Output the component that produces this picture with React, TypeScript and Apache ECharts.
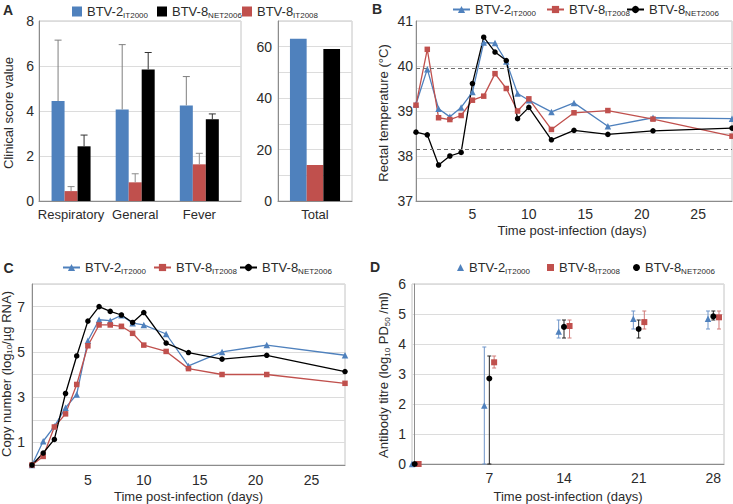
import React, { useEffect, useRef } from 'react';
import * as echarts from 'echarts';

const FONT = '"Liberation Sans", Arial, Helvetica, sans-serif';
const TEXT = '#2b2b2b';
const AXIS = '#8c8c8c';
const GRIDLINE = '#dcdcdc';
const BORDER = '#c4c4c4';

// Strains: 0 = BTV-2 IT2000, 1 = BTV-8 IT2008, 2 = BTV-8 NET2006
const strainMain = ['BTV-2', 'BTV-8', 'BTV-8'];
const strainSub = ['IT2000', 'IT2008', 'NET2006'];
const strainColor = ['#4F81BD', '#C0504D', '#000000'];
const strainErrColor = ['#7f7f7f', '#8c8c8c', '#333333'];
const titreErrColor = ['#6f95c9', '#d07a77', '#222222'];
const strainSymbol = ['triangle', 'rect', 'circle'];
const lineSymbolSize = [6.5, 5.5, 5.5];
const titreSymbolSize = [6.5, 6, 6];

// Panel A: clinical scores
const scoreCategories = ['Respiratory', 'General', 'Fever'];
const scoreBlue = [4.44, 4.07, 4.25];
const scoreBlueErr = [7.15, 6.95, 5.53];
const scoreRed = [0.44, 0.83, 1.63];
const scoreRedErr = [0.64, 1.21, 2.12];
const scoreBlack = [2.43, 5.85, 3.63];
const scoreBlackErr = [2.93, 6.6, 3.87];
const totalCategories = ['Total'];
const totalBlue = [63.1];
const totalRed = [14.0];
const totalBlack = [59.1];

// Panel B: rectal temperature
const tempDays = [0, 1, 2, 3, 4, 5, 6, 7, 8, 9, 10, 12, 14, 17, 21, 28];
const tempBlue = [39.15, 39.93, 39.05, 38.87, 39.08, 39.42, 40.52, 40.51, 40.1, 39.39, 39.24, 38.98, 39.18, 38.66, 38.85, 38.83];
const tempRed = [39.13, 40.37, 38.85, 38.81, 38.9, 39.24, 39.33, 39.83, 39.5, 39.0, 39.27, 38.59, 38.96, 39.01, 38.82, 38.44];
const tempBlack = [38.53, 38.47, 37.8, 38.0, 38.08, 39.61, 40.64, 40.31, 40.12, 38.83, 39.08, 38.36, 38.57, 38.48, 38.56, 38.62];
const tempThresholds = [39.95, 38.16];

// Panel C: viral RNA copy number
const rnaDays = [0, 1, 2, 3, 4, 5, 6, 7, 8, 9, 10, 12, 14, 17, 21, 28];
const rnaBlue = [0, 1.05, 1.71, 2.53, 3.12, 5.49, 6.42, 6.38, 6.62, 6.27, 6.19, 5.79, 4.38, 5.0, 5.3, 4.85];
const rnaRed = [0, 0.38, 1.68, 2.26, 3.56, 5.27, 6.19, 6.19, 6.13, 5.82, 5.3, 5.02, 4.26, 4.0, 4.0, 3.61];
const rnaBlack = [0, 0.53, 1.13, 3.16, 4.82, 6.36, 7.0, 6.79, 6.63, 6.3, 6.74, 5.39, 4.97, 4.68, 4.85, 4.13];

// Panel D: antibody titre (points are dodged around each sampling day)
const titreTicks = [7, 14, 21, 28];
const titreBlueX = [-0.25, 6.53, 13.5, 20.5, 27.5];
const titreRedX = [0.37, 7.45, 14.52, 21.53, 28.53];
const titreBlackX = [0, 7, 14, 21, 28];
const titreBlue = [0, 1.95, 4.42, 4.84, 4.84];
const titreBlueLo = [0, 0, 4.2, 4.5, 4.5];
const titreBlueHi = [0, 3.9, 4.8, 5.1, 5.1];
const titreRed = [0, 3.39, 4.6, 4.73, 4.89];
const titreRedLo = [0, 3.2, 4.2, 4.5, 4.5];
const titreRedHi = [0, 3.6, 4.8, 5.1, 5.1];
const titreBlack = [0, 2.85, 4.57, 4.5, 4.92];
const titreBlackLo = [0, 0, 4.2, 4.2, 4.8];
const titreBlackHi = [0, 3.6, 4.8, 4.8, 5.1];

const scoreVals = [scoreBlue, scoreRed, scoreBlack];
const scoreErrs = [scoreBlueErr, scoreRedErr, scoreBlackErr];
const totalVals = [totalBlue, totalRed, totalBlack];
const tempVals = [tempBlue, tempRed, tempBlack];
const rnaVals = [rnaBlue, rnaRed, rnaBlack];
const titreX = [titreBlueX, titreRedX, titreBlackX];
const titreVals = [titreBlue, titreRed, titreBlack];
const titreLo = [titreBlueLo, titreRedLo, titreBlackLo];
const titreHi = [titreBlueHi, titreRedHi, titreBlackHi];

const rich = {
  m: { fontSize: 13, fontFamily: FONT, color: TEXT, lineHeight: 15 },
  s: { fontSize: 8, fontFamily: FONT, color: TEXT, lineHeight: 8, padding: [9, 0, 0, 0], verticalAlign: 'bottom' },
};

function legendFormatter(name: string) {
  const k = Number(name.split('|')[1]);
  return `{m|${strainMain[k]}}{s|${strainSub[k]}}`;
}

function legendItem(name: string, left: number, top: number, w: number, h: number, icon?: string) {
  const l: any = {
    data: [name],
    left,
    top,
    padding: 0,
    itemWidth: w,
    itemHeight: h,
    selectedMode: false,
    formatter: legendFormatter,
    textStyle: { fontFamily: FONT, color: TEXT, fontSize: 13, rich },
  };
  if (icon) l.icon = icon;
  return l;
}

function errorBars(xi: number, yi: number, data: number[][], offsetPx: number, color: string, bothCaps: boolean, capHalf: number) {
  return {
    type: 'custom',
    xAxisIndex: xi,
    yAxisIndex: yi,
    silent: true,
    z: 5,
    data,
    encode: { x: 0, y: [1, 2] },
    renderItem: (_params: any, api: any) => {
      const x = api.value(0);
      const lo = api.coord([x, api.value(1)]);
      const hi = api.coord([x, api.value(2)]);
      if (Math.abs(lo[1] - hi[1]) < 0.5) return { type: 'group', children: [] };
      const px = lo[0] + offsetPx;
      const st = { stroke: color, lineWidth: 1 };
      const children: any[] = [
        { type: 'line', shape: { x1: px, y1: lo[1], x2: px, y2: hi[1] }, style: st },
        { type: 'line', shape: { x1: px - capHalf, y1: hi[1], x2: px + capHalf, y2: hi[1] }, style: st },
      ];
      if (bothCaps) {
        children.push({ type: 'line', shape: { x1: px - capHalf, y1: lo[1], x2: px + capHalf, y2: lo[1] }, style: st });
      }
      return { type: 'group', children };
    },
  };
}

function textEl(text: string, x: number, y: number, opts: any = {}) {
  return {
    type: 'text',
    x,
    y,
    rotation: opts.rotation || 0,
    silent: true,
    style: {
      text,
      fontFamily: FONT,
      fontSize: opts.fontSize || 13,
      fontWeight: opts.fontWeight || 'normal',
      fill: TEXT,
      align: 'center',
      verticalAlign: 'middle',
      textAlign: 'center',
      textVerticalAlign: 'middle',
      rich: opts.rich,
    },
  };
}

const axisLine = { show: true, lineStyle: { color: AXIS, width: 1 } };
const splitLine = { show: true, lineStyle: { color: GRIDLINE, width: 1 } };
const labelBase = { color: TEXT, fontFamily: FONT, fontSize: 14 };

function buildOption() {
  const series: any[] = [];

  // Panel A bars + error bars
  for (let k = 0; k < 3; k++) {
    series.push({
      type: 'bar',
      name: `A|${k}`,
      xAxisIndex: 0,
      yAxisIndex: 0,
      barWidth: 13,
      barGap: '0%',
      itemStyle: { color: strainColor[k] },
      data: scoreCategories.map((_, i) => [i + 0.5, scoreVals[k][i]]),
    });
  }
  for (let k = 0; k < 3; k++) {
    series.push(
      errorBars(
        0,
        0,
        scoreCategories.map((_, i) => [i + 0.5, scoreVals[k][i], scoreErrs[k][i]]),
        (k - 1) * 13,
        strainErrColor[k],
        false,
        3.5
      )
    );
  }
  for (let k = 0; k < 3; k++) {
    series.push({
      type: 'bar',
      name: `A|${k}`,
      xAxisIndex: 1,
      yAxisIndex: 1,
      barWidth: 16.7,
      barGap: '0%',
      itemStyle: { color: strainColor[k] },
      data: totalVals[k],
    });
  }

  // Panel B lines
  for (let k = 0; k < 3; k++) {
    const s: any = {
      type: 'line',
      name: `B|${k}`,
      xAxisIndex: 2,
      yAxisIndex: 2,
      symbol: strainSymbol[k],
      symbolSize: lineSymbolSize[k],
      showAllSymbol: true,
      lineStyle: { color: strainColor[k], width: 1.3 },
      itemStyle: { color: strainColor[k] },
      data: tempDays.map((d, i) => [d, tempVals[k][i]]),
    };
    if (k === 2) {
      s.markLine = {
        silent: true,
        symbol: 'none',
        label: { show: false },
        lineStyle: { type: [4, 3], color: '#6e6e6e', width: 1 },
        data: tempThresholds.map((v) => ({ yAxis: v })),
      };
    }
    series.push(s);
  }

  // Panel C lines
  for (let k = 0; k < 3; k++) {
    series.push({
      type: 'line',
      name: `C|${k}`,
      xAxisIndex: 3,
      yAxisIndex: 3,
      symbol: strainSymbol[k],
      symbolSize: lineSymbolSize[k],
      showAllSymbol: true,
      lineStyle: { color: strainColor[k], width: 1.3 },
      itemStyle: { color: strainColor[k] },
      data: rnaDays.map((d, i) => [d, rnaVals[k][i]]),
    });
  }

  // Panel D scatter + error bars
  for (let k = 0; k < 3; k++) {
    series.push(
      errorBars(
        4,
        4,
        titreX[k].map((x, i) => [x, titreLo[k][i], titreHi[k][i]]),
        0,
        titreErrColor[k],
        true,
        2
      )
    );
  }
  for (let k = 0; k < 3; k++) {
    series.push({
      type: 'scatter',
      name: `D|${k}`,
      xAxisIndex: 4,
      yAxisIndex: 4,
      symbol: strainSymbol[k],
      symbolSize: titreSymbolSize[k],
      z: 6,
      itemStyle: { color: strainColor[k], opacity: 1 },
      data: titreX[k].map((x, i) => [x, titreVals[k][i]]),
    });
  }

  const option: any = {
    animation: false,
    textStyle: { fontFamily: FONT },
    grid: [
      { left: 39, top: 21, width: 202, height: 180, show: true, borderColor: BORDER, borderWidth: 1 },
      { left: 278, top: 21, width: 74, height: 180, show: true, borderColor: BORDER, borderWidth: 1 },
      { left: 416, top: 21, width: 316, height: 180, show: true, borderColor: BORDER, borderWidth: 1 },
      { left: 32, top: 284, width: 313, height: 181, show: true, borderColor: BORDER, borderWidth: 1 },
      { left: 412, top: 284, width: 312, height: 180, show: true, borderColor: BORDER, borderWidth: 1 },
    ],
    xAxis: [
      {
        type: 'value',
        gridIndex: 0,
        min: 0,
        max: 3.15,
        interval: 0.5,
        axisLine,
        axisTick: { show: false },
        splitLine: { show: false },
        axisLabel: {
          ...labelBase,
          fontSize: 13,
          margin: 7,
          showMaxLabel: false,
          formatter: (v: number) => {
            const i = Math.floor(v);
            return Math.abs(v - i - 0.5) < 1e-6 && scoreCategories[i] ? scoreCategories[i] : '';
          },
        },
      },
      {
        type: 'category',
        gridIndex: 1,
        data: totalCategories,
        axisLine,
        axisTick: { show: false },
        splitLine: { show: false },
        axisLabel: { ...labelBase, fontSize: 13, margin: 7 },
      },
      {
        type: 'value',
        gridIndex: 2,
        min: 0,
        max: 28,
        interval: 5,
        axisLine,
        axisTick: { show: false },
        splitLine: { show: false },
        axisLabel: { ...labelBase, margin: 6, showMinLabel: false, showMaxLabel: false },
      },
      {
        type: 'value',
        gridIndex: 3,
        min: 0,
        max: 28,
        interval: 5,
        axisLine,
        axisTick: { show: false },
        splitLine: { show: false },
        axisLabel: { ...labelBase, margin: 8, showMinLabel: false, showMaxLabel: false },
      },
      {
        type: 'value',
        gridIndex: 4,
        min: -0.25,
        max: 29,
        axisLine,
        axisTick: { show: false, customValues: titreTicks },
        splitLine: { show: false },
        axisLabel: { ...labelBase, margin: 7, customValues: titreTicks },
      },
    ],
    yAxis: [
      {
        type: 'value',
        gridIndex: 0,
        min: 0,
        max: 8,
        interval: 2,
        axisLine,
        axisTick: { show: false },
        splitLine,
        axisLabel: { ...labelBase, margin: 5 },
      },
      {
        type: 'value',
        gridIndex: 1,
        min: 0,
        max: 70,
        interval: 10,
        axisLine,
        axisTick: { show: false },
        splitLine,
        axisLabel: { ...labelBase, margin: 6, formatter: (v: number) => (v % 20 === 0 ? String(v) : '') },
      },
      {
        type: 'value',
        gridIndex: 2,
        min: 37,
        max: 41,
        interval: 0.5,
        axisLine,
        axisTick: { show: false },
        splitLine,
        axisLabel: { ...labelBase, margin: 3, formatter: (v: number) => (Math.abs(v - Math.round(v)) < 1e-6 ? String(Math.round(v)) : '') },
      },
      {
        type: 'value',
        gridIndex: 3,
        min: 0,
        max: 8,
        interval: 1,
        axisLine,
        axisTick: { show: false },
        splitLine,
        axisLabel: { ...labelBase, margin: 7, formatter: (v: number) => (Math.round(v) % 2 === 1 ? String(Math.round(v)) : '') },
      },
      {
        type: 'value',
        gridIndex: 4,
        min: 0,
        max: 6,
        interval: 1,
        axisLine,
        axisTick: { show: false },
        splitLine,
        axisLabel: { ...labelBase, margin: 6 },
      },
    ],
    legend: [
      legendItem('A|0', 72, 2, 10, 10, 'rect'),
      legendItem('A|2', 157, 2, 10, 10, 'rect'),
      legendItem('A|1', 242, 2, 10, 10, 'rect'),
      legendItem('B|0', 452, 0, 17, 9),
      legendItem('B|1', 546, 0, 17, 9),
      legendItem('B|2', 626, 0, 17, 9),
      legendItem('C|0', 62, 258, 17, 9),
      legendItem('C|1', 153, 258, 17, 9),
      legendItem('C|2', 239, 258, 17, 9),
      legendItem('D|0', 457, 258, 7, 7),
      legendItem('D|1', 547, 258, 7, 7),
      legendItem('D|2', 633, 258, 7, 7),
    ],
    graphic: [
      textEl('A', 8, 10, { fontWeight: 'bold', fontSize: 14 }),
      textEl('B', 377, 9, { fontWeight: 'bold', fontSize: 14 }),
      textEl('C', 8.5, 268, { fontWeight: 'bold', fontSize: 14 }),
      textEl('D', 375, 267, { fontWeight: 'bold', fontSize: 14 }),
      textEl('Clinical score value', 8.7, 113, { rotation: Math.PI / 2 }),
      textEl('Rectal temperature (°C)', 383.5, 113, { rotation: Math.PI / 2 }),
      textEl('{m|Copy number (log}{s|10}{m|/µg RNA)}', 6.3, 374, { rotation: Math.PI / 2, rich }),
      textEl('{m|Antibody titre (log}{s|10}{m| PD}{s|50}{m| /ml)}', 383.5, 375, { rotation: Math.PI / 2, rich }),
      textEl('Time post-infection (days)', 572, 230),
      textEl('Time post-infection (days)', 188.5, 496.5),
      textEl('Time post-infection (days)', 568, 496.5),
    ],
    series,
  };
  return option;
}

export default function App() {
  const ref = useRef<HTMLDivElement>(null);
  useEffect(() => {
    document.body.style.margin = '0';
    if (!ref.current) return;
    const chart = echarts.init(ref.current, null, { renderer: 'svg' });
    chart.setOption(buildOption());
    return () => {
      chart.dispose();
    };
  }, []);
  return <div ref={ref} style={{ width: 733, height: 504, position: 'absolute', left: 0, top: 0 }} />;
}
